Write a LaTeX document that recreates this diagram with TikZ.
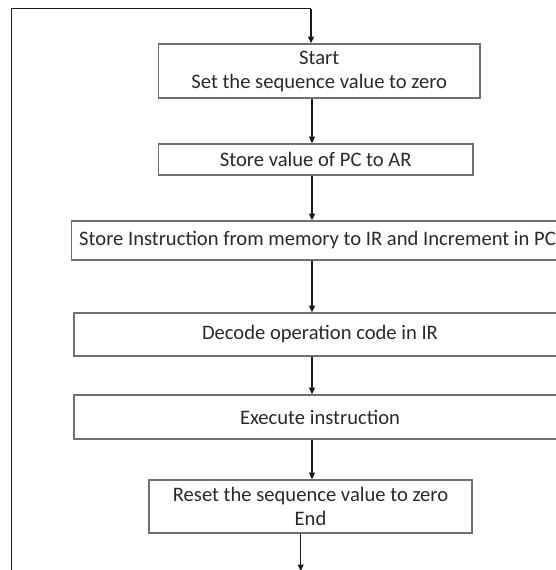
\documentclass[tikz,border=0pt]{standalone}
\usepackage{fontspec}
\setmainfont{Carlito}
\usetikzlibrary{arrows.meta}
\definecolor{boxline}{HTML}{707070}
\definecolor{txt}{HTML}{2A2A2A}
\definecolor{flow}{HTML}{1A1A1A}
\tikzset{
  stepbox/.style={draw=boxline, line width=1.7pt, fill=white, inner sep=0pt,
    align=center, text=txt, font=\fontsize{20.6}{24}\selectfont},
  arr/.style={draw=flow, line width=1.1pt, -{Triangle[length=6.5pt,width=6pt]}},
  loopline/.style={draw=flow, line width=1.4pt}
}
\begin{document}
\begin{tikzpicture}[x=1pt,y=1pt]
  \useasboundingbox (0,0) rectangle (556,-570);
  \clip (0,0) rectangle (556,-570);
  \fill[white] (0,0) rectangle (556,-570);

  % process steps
  \node[stepbox, minimum width=321.5pt, minimum height=54pt] (b1) at (319.25,-71)
    {Start\\Set the sequence value to zero};
  \node[stepbox, minimum width=314.5pt, minimum height=31pt] (b2) at (315.75,-159.5)
    {Store value of PC to AR};
  \node[stepbox, minimum width=492pt, minimum height=39pt] (b3) at (317.5,-240.5)
    {Store Instruction from memory to IR and Increment in PC};
  \node[stepbox, minimum width=492pt, minimum height=43pt] (b4) at (320,-334.5)
    {Decode operation code in IR};
  \node[stepbox, minimum width=492pt, minimum height=44pt] (b5) at (320,-417)
    {Execute instruction};
  \node[stepbox, minimum width=323pt, minimum height=53pt] (b6) at (310.5,-506.5)
    {Reset the sequence value to zero\\End};

  % flow axis and loop corners
  \coordinate (axis) at (312,0);
  \coordinate (outx) at (300.7,0);
  \coordinate (out) at (300.7,-571);
  \coordinate (loopbot) at (11.7,-572);
  \coordinate (looptop) at (11.7,-8.5);
  \coordinate (loopin) at (311,-8.5);

  % connectors
  \draw[loopline] (loopbot) -- (looptop) -- (loopin);
  \draw[arr] (loopin) -- (b1.north -| loopin);
  \draw[arr] (b1.south -| axis) -- (b2.north -| axis);
  \draw[arr] (b2.south -| axis) -- (b3.north -| axis);
  \draw[arr] (b3.south -| axis) -- (b4.north -| axis);
  \draw[arr] (b4.south -| axis) -- (b5.north -| axis);
  \draw[arr] (b5.south -| axis) -- (b6.north -| axis);
  \draw[arr] (b6.south -| outx) -- (out);
\end{tikzpicture}
\end{document}
